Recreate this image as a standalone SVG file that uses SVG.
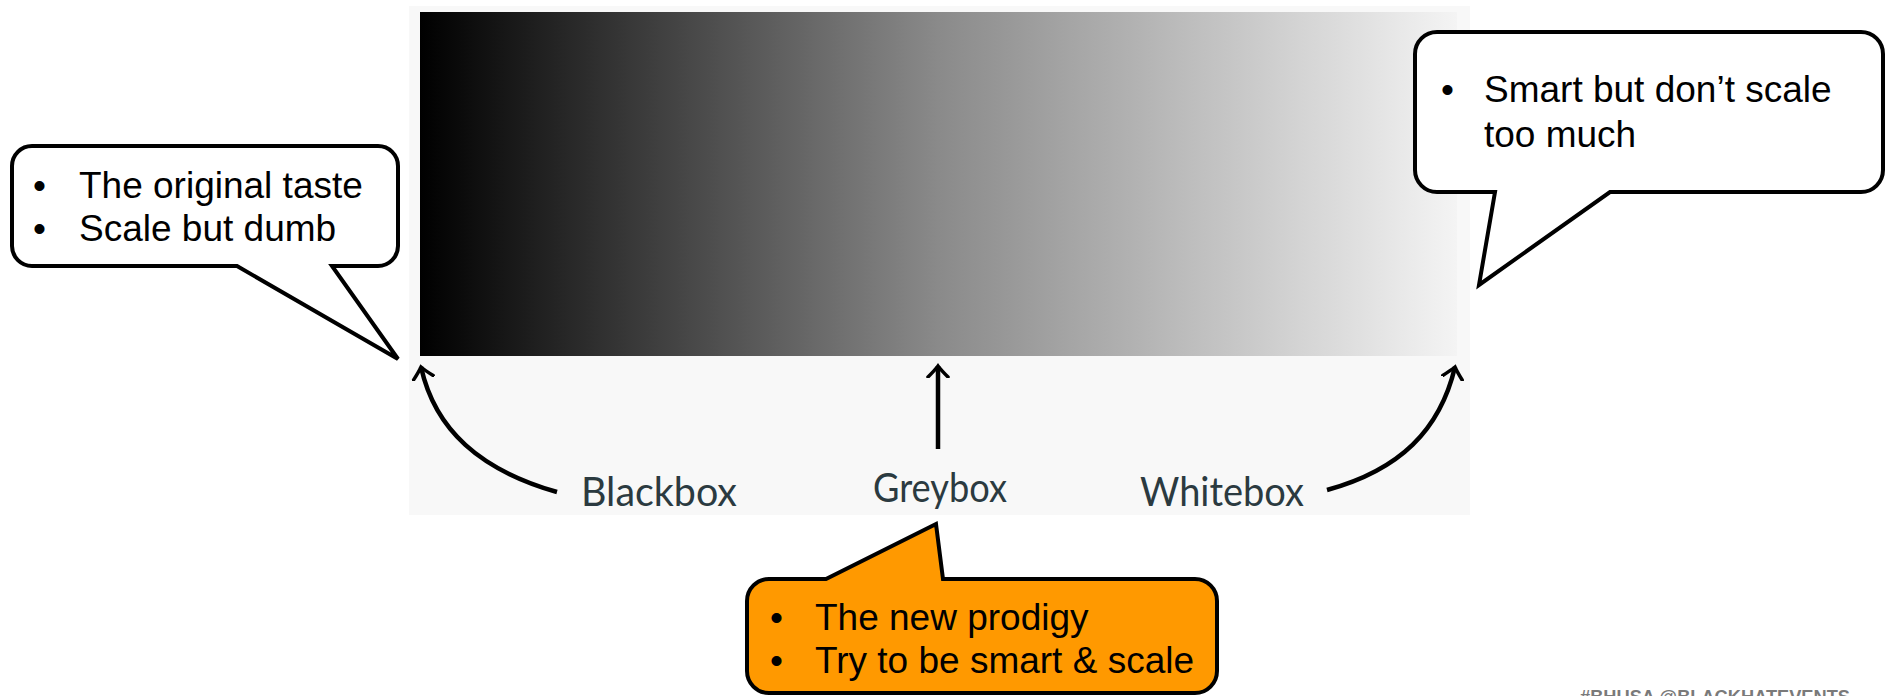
<svg xmlns="http://www.w3.org/2000/svg" width="1885" height="696" viewBox="0 0 1885 696">
<defs>
<linearGradient id="bw" x1="0" y1="0" x2="1" y2="0">
<stop offset="0" stop-color="#000000"/>
<stop offset="0.5" stop-color="#8a8a8a"/>
<stop offset="1" stop-color="#f4f4f4"/>
</linearGradient>
<marker id="tip" viewBox="-12 -12 24 24" markerWidth="24" markerHeight="24" markerUnits="userSpaceOnUse" orient="auto" refX="0" refY="0">
<path d="M -11 -10 Q -4 -3 0 0 Q -4 3 -11 10" fill="none" stroke="#000" stroke-width="3.5" stroke-linecap="round"/>
</marker>
<style>
.call{stroke:#000;stroke-width:4;stroke-linejoin:miter}
.txt{font-family:"Liberation Sans",Arial,sans-serif;font-size:37px;fill:#000}
.lbl{font-family:Lato,"Open Sans",sans-serif;font-size:40px;fill:#2b3a40}
.arr{fill:none;stroke:#000;stroke-width:4.5;marker-end:url(#tip)}
</style>
</defs>
<rect x="0" y="0" width="1885" height="696" fill="#ffffff"/>
<g id="panel">
<rect x="409" y="6" width="1061" height="509" fill="#f8f8f8"/>
<rect x="420" y="12" width="1037" height="344" fill="url(#bw)"/>
</g>
<g id="connectors">
<path class="arr" d="M 557 492 C 480 470 435 430 421 367"/>
<path class="arr" d="M 938 449 L 938 366"/>
<path class="arr" d="M 1327 490 C 1400 470 1440 430 1455 367"/>
</g>
<g id="blackbox"><text class="lbl" x="581" y="506" textLength="156" lengthAdjust="spacingAndGlyphs">Blackbox</text></g>
<g id="greybox"><text class="lbl" x="873" y="502" textLength="134" lengthAdjust="spacingAndGlyphs">Greybox</text></g>
<g id="whitebox"><text class="lbl" x="1140" y="506" textLength="164" lengthAdjust="spacingAndGlyphs">Whitebox</text></g>
<g id="callout-left">
<path class="call" fill="#ffffff" d="M 32 146 H 378 A 20 20 0 0 1 398 166 V 246 A 20 20 0 0 1 378 266 H 332 L 398 359 L 237 266 H 32 A 20 20 0 0 1 12 246 V 166 A 20 20 0 0 1 32 146 Z"/>
<text class="txt" x="33" y="198">•</text>
<text class="txt" x="79" y="198">The original taste</text>
<text class="txt" x="33" y="241">•</text>
<text class="txt" x="79" y="241">Scale but dumb</text>
</g>
<g id="callout-right">
<path class="call" fill="#ffffff" d="M 1437 32 H 1861 A 22 22 0 0 1 1883 54 V 170 A 22 22 0 0 1 1861 192 H 1610 L 1479 285 L 1495 192 H 1437 A 22 22 0 0 1 1415 170 V 54 A 22 22 0 0 1 1437 32 Z"/>
<text class="txt" x="1441" y="102">•</text>
<text class="txt" x="1484" y="102">Smart but don’t scale</text>
<text class="txt" x="1484" y="147">too much</text>
</g>
<g id="callout-bottom">
<path class="call" fill="#ff9900" d="M 769 579 H 826 L 936 524 L 943 579 H 1195 A 22 22 0 0 1 1217 601 V 671 A 22 22 0 0 1 1195 693 H 769 A 22 22 0 0 1 747 671 V 601 A 22 22 0 0 1 769 579 Z"/>
<text class="txt" x="770" y="630">•</text>
<text class="txt" x="815" y="630">The new prodigy</text>
<text class="txt" x="770" y="673">•</text>
<text class="txt" x="815" y="673">Try to be smart &amp; scale</text>
</g>
<g id="footer">
<text x="1580" y="703" font-family="'Liberation Sans',Arial,sans-serif" font-weight="bold" font-size="18" fill="#7a7a7a" textLength="270" lengthAdjust="spacingAndGlyphs">#BHUSA  @BLACKHATEVENTS</text>
</g>
</svg>
